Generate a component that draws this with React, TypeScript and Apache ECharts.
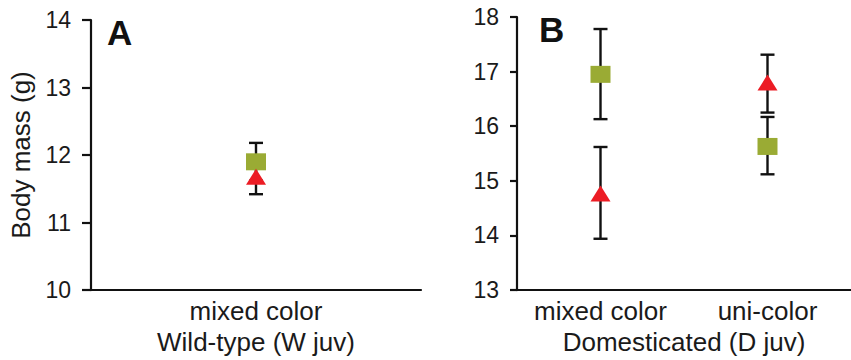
import React, { useEffect, useRef } from "react";
import * as echarts from "echarts";

const panelACategories = ["mixed color"];
const panelBCategories = ["mixed color", "uni-color"];
const panelAXName = "Wild-type (W juv)";
const panelBXName = "Domesticated (D juv)";
const yAxisName = "Body mass (g)";

// Panel A (Wild-type)
const aSquareMean = [11.9];
const aSquareLow = [11.62];
const aSquareHigh = [12.18];
const aTriMean = [11.68];
const aTriLow = [11.42];
const aTriHigh = [11.93];

// Panel B (Domesticated)
const bSquareMean = [16.95, 15.63];
const bSquareLow = [16.13, 15.12];
const bSquareHigh = [17.78, 16.17];
const bTriMean = [14.77, 16.8];
const bTriLow = [13.94, 16.25];
const bTriHigh = [15.62, 17.31];

const FONT = "'Liberation Sans', Arial, sans-serif";
const TEXT = "#1a1a1a";
const SQ = "#9aab34";
const TRI = "#ec1c24";

function errData(low: number[], high: number[]) {
  return low.map((l, i) => [i, l, high[i]]);
}

function errSeries(xi: number, low: number[], high: number[]) {
  return {
    type: "custom",
    xAxisIndex: xi,
    yAxisIndex: xi,
    z: 1,
    encode: { x: 0, y: [1, 2] },
    data: errData(low, high),
    renderItem: (params: any, api: any) => {
      const x = api.value(0);
      const lo = api.coord([x, api.value(1)]);
      const hi = api.coord([x, api.value(2)]);
      const w = 7;
      const st = { stroke: "#111", lineWidth: 2.4 };
      return {
        type: "group",
        children: [
          { type: "line", shape: { x1: lo[0], y1: lo[1], x2: hi[0], y2: hi[1] }, style: st },
          { type: "line", shape: { x1: lo[0] - w, y1: lo[1], x2: lo[0] + w, y2: lo[1] }, style: st },
          { type: "line", shape: { x1: hi[0] - w, y1: hi[1], x2: hi[0] + w, y2: hi[1] }, style: st },
        ],
      };
    },
  };
}

function markSeries(xi: number, vals: number[], symbol: string, size: number[], color: string) {
  return {
    type: "scatter",
    xAxisIndex: xi,
    yAxisIndex: xi,
    z: 3,
    symbol,
    symbolSize: size,
    itemStyle: { color, opacity: 1 },
    data: vals.map((v, i) => [i, v]),
  };
}

export default function App() {
  const ref = useRef<HTMLDivElement>(null);
  useEffect(() => {
    document.body.style.margin = "0";
    const chart = echarts.init(ref.current!, undefined, { renderer: "svg" });
    const axisLine = { show: true, lineStyle: { color: "#111", width: 2.2 } };
    const xAxisCommon = {
      type: "category",
      axisLine,
      axisTick: { show: false },
      splitLine: { show: false },
      axisLabel: { color: TEXT, fontSize: 26, fontFamily: FONT, margin: 8, interval: 0, hideOverlap: false },
      nameLocation: "middle",
      nameGap: 32,
      nameTextStyle: { color: TEXT, fontSize: 26, fontFamily: FONT },
    };
    const yAxisCommon = {
      type: "value",
      axisLine,
      axisTick: { show: true, length: 9, lineStyle: { color: "#111", width: 2.2 } },
      splitLine: { show: false },
      axisLabel: { color: TEXT, fontSize: 23, fontFamily: FONT, margin: 20 },
    };
    chart.setOption({
      animation: false,
      backgroundColor: "#fff",
      grid: [
        { left: 91, top: 20, width: 330, height: 272, containLabel: false },
        { left: 517, top: 17, width: 344, height: 275, containLabel: false },
      ],
      xAxis: [
        { ...xAxisCommon, gridIndex: 0, data: panelACategories, name: panelAXName },
        { ...xAxisCommon, gridIndex: 1, data: panelBCategories, name: panelBXName },
      ],
      yAxis: [
        {
          ...yAxisCommon,
          gridIndex: 0,
          min: 10,
          max: 14,
          interval: 1,
          name: yAxisName,
          nameLocation: "middle",
          nameGap: 57,
          nameRotate: 90,
          nameTextStyle: { color: TEXT, fontSize: 26, fontFamily: FONT },
        },
        {
          ...yAxisCommon,
          gridIndex: 1,
          min: 13,
          max: 18,
          interval: 1,
          axisTick: { show: true, length: 7, lineStyle: { color: "#111", width: 2.2 } },
          axisLabel: { ...yAxisCommon.axisLabel, margin: 18 },
        },
      ],
      graphic: [
        {
          type: "text",
          left: 107,
          top: 15,
          style: { text: "A", fontSize: 35, fontWeight: "bold", fontFamily: FONT, fill: "#111" },
        },
        {
          type: "text",
          left: 539,
          top: 12,
          style: { text: "B", fontSize: 35, fontWeight: "bold", fontFamily: FONT, fill: "#111" },
        },
      ],
      series: [
        errSeries(0, aSquareLow, aSquareHigh),
        errSeries(0, aTriLow, aTriHigh),
        errSeries(1, bSquareLow, bSquareHigh),
        errSeries(1, bTriLow, bTriHigh),
        markSeries(0, aSquareMean, "rect", [20, 17], SQ),
        markSeries(0, aTriMean, "triangle", [20, 16], TRI),
        markSeries(1, bSquareMean, "rect", [20, 17], SQ),
        markSeries(1, bTriMean, "triangle", [20, 16], TRI),
      ],
    });
    return () => chart.dispose();
  }, []);
  return <div ref={ref} style={{ width: 851, height: 360 }} />;
}
